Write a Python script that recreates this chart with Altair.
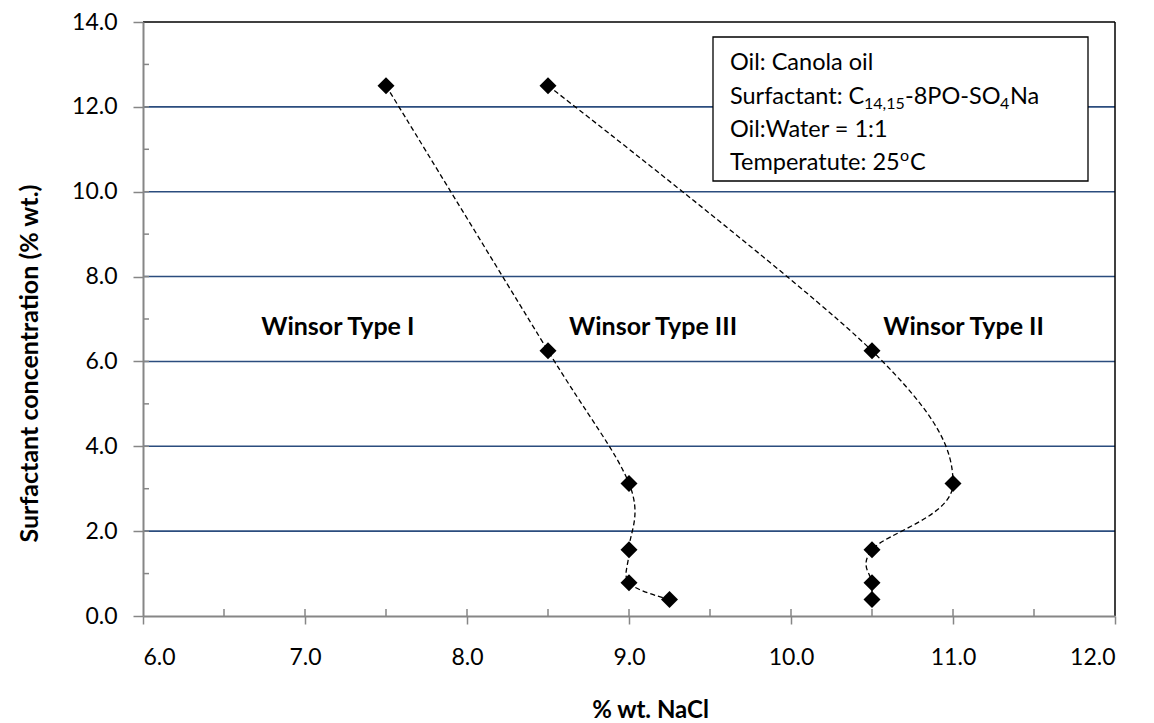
import altair as alt
import pandas as pd

# ---- data ----
surf_conc = [12.5, 6.25, 3.125, 1.5625, 0.78125, 0.390625]
salt_type1_3 = [7.5, 8.5, 9.0, 9.0, 9.0, 9.25]     # Winsor I / III boundary
salt_type3_2 = [8.5, 10.5, 11.0, 10.5, 10.5, 10.5]  # Winsor III / II boundary

x_ticks = [6, 7, 8, 9, 10, 11, 12]
y_ticks = [0, 2, 4, 6, 8, 10, 12, 14]
x_minor = [6.5, 7, 7.5, 8, 8.5, 9, 9.5, 10, 10.5, 11, 11.5]
y_minor = [1, 2, 3, 4, 5, 6, 7, 8, 9, 10, 11, 12, 13]
y_grid = [2, 4, 6, 8, 10, 12]

region_labels = ["Winsor Type I", "Winsor Type III", "Winsor Type II"]
region_x = [6.73, 8.63, 10.57]   # left edge of each label
region_y = [6.8, 6.8, 6.8]

rows = []
for i, (a, c) in enumerate(zip(salt_type1_3, surf_conc)):
    rows.append({"series": "A", "idx": i, "salt": a, "conc": c})
for i, (a, c) in enumerate(zip(salt_type3_2, surf_conc)):
    rows.append({"series": "B", "idx": i, "salt": a, "conc": c})
df = pd.DataFrame(rows)

W, H = 972, 594
FONT = "Lato"
GRAY = "#868686"
GRID = "#2B4C7E"

xs = alt.Scale(domain=[6, 12], nice=False, zero=False)
ys = alt.Scale(domain=[0, 14], nice=False, zero=False)

x_axis = alt.Axis(values=x_ticks, format=".1f", grid=False, tickSize=8,
                  labelPadding=22, titleX=507, titleY=94, titleBaseline="middle",
                  titleAlign="center", titleFontSize=24, zindex=1)
y_axis = alt.Axis(values=y_ticks, format=".1f", grid=False, tickSize=10,
                  labelPadding=16, titleX=-114, titleY=341, titleAngle=270,
                  titleBaseline="middle", titleAlign="center", titleFontSize=25,
                  zindex=1)
x_enc = alt.X("salt:Q", scale=xs, title="% wt. NaCl", axis=x_axis)
y_enc = alt.Y("conc:Q", scale=ys, title="Surfactant concentration (% wt.)", axis=y_axis)

# gridlines
grid = alt.Chart(pd.DataFrame({"conc": y_grid})).mark_rule(
    color=GRID, strokeWidth=1.6).encode(
    y=y_enc, x=alt.value(0), x2=alt.value(W))

# top and right border
top = alt.Chart(pd.DataFrame({"a": [0]})).mark_rule(color="black", strokeWidth=1.5).encode(
    x=alt.value(0), x2=alt.value(W), y=alt.value(0))
right = alt.Chart(pd.DataFrame({"a": [0]})).mark_rule(color="black", strokeWidth=1.5).encode(
    x=alt.value(W), y=alt.value(0), y2=alt.value(H))

# inside tick marks
xin = alt.Chart(pd.DataFrame({"salt": x_minor})).mark_rule(color=GRAY, strokeWidth=1.5).encode(
    x=x_enc, y=alt.value(H), y2=alt.value(H - 7))
yin = alt.Chart(pd.DataFrame({"conc": y_minor})).mark_rule(color=GRAY, strokeWidth=1.5).encode(
    y=y_enc, x=alt.value(0), x2=alt.value(6))

lines = alt.Chart(df).mark_line(
    interpolate="cardinal", color="black", strokeWidth=1.3, strokeDash=[5, 3]).encode(
    x=x_enc, y=y_enc, detail="series:N", order="idx:Q")

pts = alt.Chart(df).mark_point(
    shape="diamond", filled=True, color="black", opacity=1, size=290).encode(
    x=x_enc, y=y_enc)

lab_df = pd.DataFrame({"label": region_labels, "salt": region_x, "conc": region_y})
labels = alt.Chart(lab_df).mark_text(
    font=FONT, fontSize=25, fontWeight="bold", color="black", align="left",
    baseline="middle").encode(x=x_enc, y=y_enc, text="label:N")

# info box
box = alt.Chart(pd.DataFrame({"a": [0]})).mark_rect(
    fill="white", stroke="black", strokeWidth=1.3).encode(
    x=alt.value(570), x2=alt.value(945), y=alt.value(15), y2=alt.value(159))

def txt(s, x, y, size=23.5, baseline="middle"):
    return alt.Chart(pd.DataFrame({"s": [s]})).mark_text(
        font=FONT, fontSize=size, color="black", align="left", baseline=baseline).encode(
        x=alt.value(x), y=alt.value(y), text="s:N")

info = [
    txt("Oil: Canola oil", 587, 41),
    txt("Surfactant: C", 587, 75),
    txt("14,15", 721, 82, size=16),
    txt("-8PO-SO", 762, 75),
    txt("4", 857, 82, size=16),
    txt("Na", 867, 75),
    txt("Oil:Water = 1:1", 587, 108),
    txt("Temperatute: 25", 587, 141),
    txt("o", 757, 134, size=16),
    txt("C", 767, 141),
]

chart = alt.layer(grid, xin, yin, lines, pts, labels, top, right, box, *info).properties(
    width=W, height=H,
    autosize=alt.AutoSizeParams(type="none"),
    padding={"left": 135, "top": 14, "right": 30, "bottom": 105},
).configure_view(stroke=None).configure_axis(
    domainColor=GRAY, domainWidth=2, tickColor=GRAY, tickWidth=1.5,
    labelFont=FONT, labelFontSize=23, labelColor="black",
    titleFont=FONT, titleFontWeight="bold", titleColor="black",
)

chart.save("out.html", embed_options={"renderer": "svg", "actions": False})
